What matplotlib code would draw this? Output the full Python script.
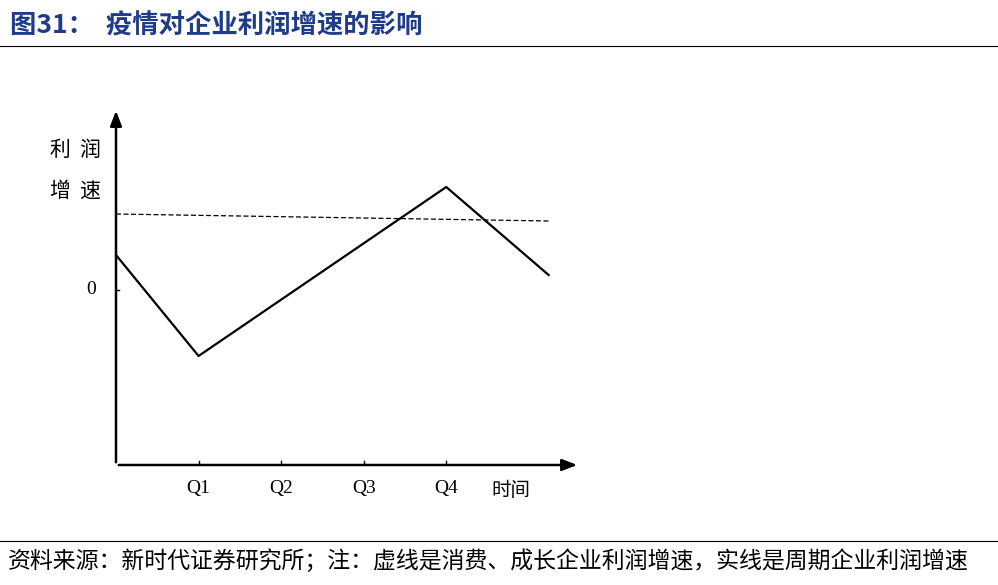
import matplotlib.pyplot as plt
from matplotlib.lines import Line2D

plt.rcParams['font.family'] = ['Noto Sans CJK SC', 'DejaVu Sans']

# data (schematic units)
solid_x = [0, 1, 4, 5.24]
solid_y = [0.35, -0.66, 1.03, 0.15]
dash_x = [0, 5.24]
dash_y = [0.76, 0.69]
tick_pos = [1, 2, 3, 4]
tick_labels = ['Q1', 'Q2', 'Q3', 'Q4']

W, H = 998, 585
fig = plt.figure(figsize=(W / 100, H / 100), dpi=100)

def fx(px): return px / W
def fy(py): return 1 - py / H

# axes: x 116..580 px, y 108..465 px
ax = fig.add_axes([fx(116), fy(465), fx(580) - fx(116), fy(108) - fy(465)])
ax.set_xlim(0, 5.62)
ax.set_ylim(-1.75, 1.82)
for s in ax.spines.values():
    s.set_visible(False)
ax.set_xticks([]); ax.set_yticks([])
ax.patch.set_alpha(0)

ax.plot(solid_x, solid_y, color='black', lw=1.6)
ax.plot(dash_x, dash_y, color='black', lw=0.9, ls=(0, (4, 2)))

arr = dict(arrowstyle='-|>,head_width=0.35,head_length=0.9', color='black', lw=1.8)
ax.annotate('', xy=(1.0, 0), xytext=(0, 0), xycoords='axes fraction', arrowprops=arr)
ax.annotate('', xy=(0, 1.0), xytext=(0, 0), xycoords='axes fraction', arrowprops=arr)
for t, lab in zip(tick_pos, tick_labels):
    ax.plot([t, t], [-1.75, -1.71], color='black', lw=1)
    ax.text(t, -1.9, lab, ha='center', va='top', fontsize=14, family=['Liberation Serif'])
ax.plot([0, 0.04], [0, 0], color='black', lw=1)
ax.text(-0.3, 0, '0', ha='center', va='center', fontsize=14, family=['Liberation Serif'])
ax.text(4.55, -1.9, '时间', ha='left', va='top', fontsize=14)

fig.text(fx(75), fy(150), '利  润', ha='center', va='center', fontsize=15)
fig.text(fx(75), fy(191), '增  速', ha='center', va='center', fontsize=15)

fig.text(fx(10), fy(26), '图31：  疫情对企业利润增速的影响', ha='left', va='center',
         fontsize=19, fontweight='bold', color='#1f3c88')
fig.add_artist(Line2D([0, 1], [fy(46), fy(46)], color='black', lw=0.8))
fig.add_artist(Line2D([0, 1], [fy(541), fy(541)], color='black', lw=0.8))
fig.text(fx(8), fy(561), '资料来源：新时代证券研究所；注：虚线是消费、成长企业利润增速，实线是周期企业利润增速',
         ha='left', va='center', fontsize=16.5)

fig.savefig('out.png', dpi=100, facecolor='white')
